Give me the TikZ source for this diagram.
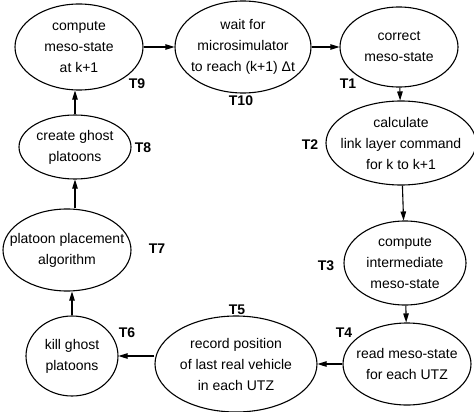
\documentclass[tikz,border=0pt]{standalone}
\usepackage{fontspec}
\setmainfont{Liberation Sans}
\usetikzlibrary{shapes.geometric, arrows.meta}

\begin{document}
\begin{tikzpicture}[x=1pt, y=-1pt,
    state/.style={draw, ellipse, line width=1.1pt, inner sep=0pt},
    txt/.style={align=center, font=\fontsize{14}{21}\selectfont},
    tag/.style={font=\fontsize{14}{16}\selectfont\bfseries},
    arr/.style={-{Triangle[length=9pt,width=5.5pt]}, line width=1.1pt}]
      \useasboundingbox (0,0) rectangle (474,412);
      % the ten tasks
      \node[state, minimum width=128pt, minimum height=86pt,
            label={[txt]center:{compute\\meso-state\\at k+1}}]           (T9)  at (79,47)   {};
      \node[state, minimum width=136pt, minimum height=92pt,
            label={[txt]center:{wait for\\microsimulator\\to reach (k+1) Δt}}] (T10) at (243,47) {};
      \node[state, minimum width=118pt, minimum height=80pt,
            label={[txt]center:{correct\\meso-state}}]                   (T1)  at (399,47)  {};
      \node[state, minimum width=150pt, minimum height=84pt,
            label={[txt]center:{calculate\\link layer command\\for k to k+1}}] (T2) at (401,143) {};
      \node[state, minimum width=122pt, minimum height=84pt,
            label={[txt]center:{compute\\intermediate\\meso-state}}]     (T3)  at (405,263) {};
      \node[state, minimum width=128pt, minimum height=82pt,
            label={[txt]center:{read meso-state\\for each UTZ}}]         (T4)  at (407,364) {};
      \node[state, minimum width=162pt, minimum height=96pt,
            label={[txt]center:{record position\\of last real vehicle\\in each UTZ}}] (T5) at (236,364) {};
      \node[state, minimum width=92pt, minimum height=80pt,
            label={[txt]center:{kill ghost\\platoons}}]                  (T6)  at (72,356)  {};
      \node[state, minimum width=128pt, minimum height=82pt,
            label={[txt]center:{platoon placement\\algorithm}}]          (T7)  at (67,250)  {};
      \node[state, minimum width=112pt, minimum height=64pt,
            label={[txt]center:{create ghost\\platoons}}]                (T8)  at (75,147)  {};
      % task numbers
      \foreach \t/\x/\y in {1/348/84, 2/310/145, 3/326/266, 4/344/333, 5/237/310,
                            6/127/333, 7/157/249, 8/143/148, 9/137/84, 10/241/101}
        \node[tag] (L\t) at (\x,\y) {T\t};
      % cycle
      \draw[arr] (T9) -- (T10);
      \draw[arr] (T10) -- (T1);
      \draw[arr] (T1) -- (T2);
      \draw[arr] (T2) -- (T3);
      \draw[arr] (T3) -- (T4);
      \draw[arr] (T4) -- (T5);
      \draw[arr] (T5.west |- T6.east) -- (T6.east);
      \draw[arr] (T6.north) -- (T6.north |- T7.south);
      \draw[arr] (T8.south |- T7.north) -- (T8.south);
      \draw[arr] (T8.north) -- (T8.north |- T9.south);
    \end{tikzpicture}
\end{document}
